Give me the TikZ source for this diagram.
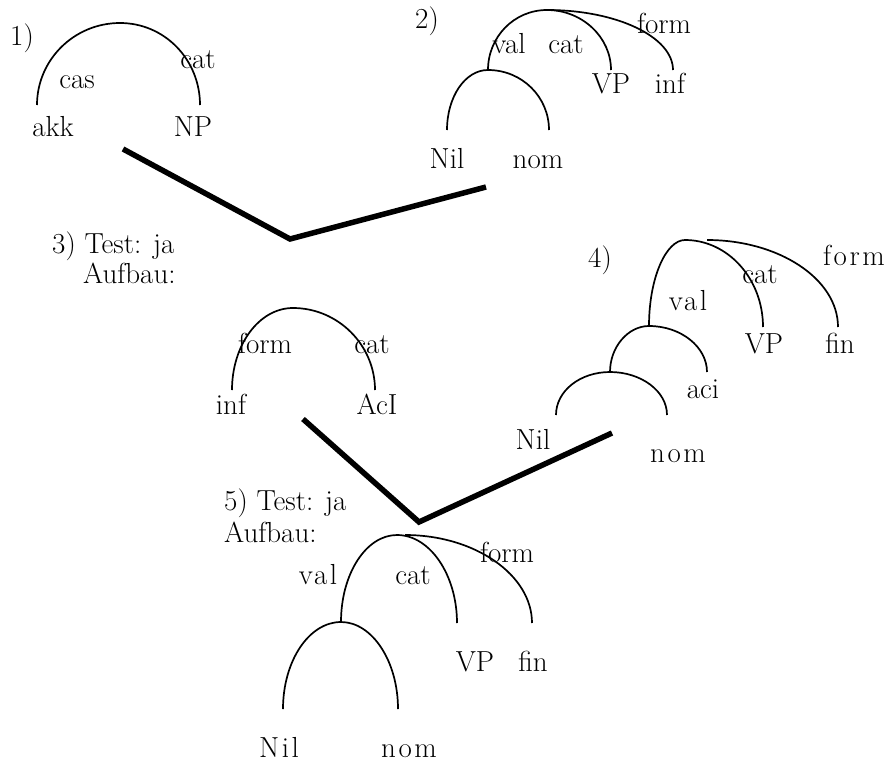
\documentclass[tikz,border=0pt]{standalone}
\usepackage{fontspec}
\setmainfont{Latin Modern Roman}
\begin{document}
\begin{tikzpicture}[x=1pt,y=-1pt,
  lbl/.style={anchor=base, inner sep=0pt, font=\fontsize{29}{33}\selectfont},
  wide/.style={lbl, font=\fontsize{29}{33}\selectfont\addfontfeatures{LetterSpace=9}},
  branch/.style={line width=1.7pt},
  merge/.style={line width=5.5pt, line join=miter}]
\useasboundingbox (0,0) rectangle (889,763);

% ---------- 1) ----------
\coordinate (t1l) at (37,105);
\coordinate (t1top) at (120,23);
\coordinate (t1r) at (200,105);
\draw[branch] (t1l) .. controls +(0,-45) and +(-46,0) .. (t1top)
              .. controls +(45,0) and +(0,-45) .. (t1r);
\node[lbl] (n1) at (22,45) {1)};
\node[lbl] (cas1) at (77,88) {cas};
\node[lbl] (cat1) at (198,68) {cat};
\node[lbl] (akk1) at (53,136) {akk};
\node[lbl] (np1) at (193,136) {NP};

% ---------- 2) ----------
\coordinate (t2nil) at (447,130);
\coordinate (t2mid) at (488,70);
\coordinate (t2nom) at (549,130);
\coordinate (t2top) at (547,10);
\coordinate (t2vp) at (611,70);
\coordinate (t2inf) at (673,70);
\draw[branch] (t2nil) .. controls +(0,-33) and +(-23,0) .. (t2mid)
              .. controls +(34,0) and +(0,-33) .. (t2nom);
\draw[branch] (t2mid) .. controls +(0,-33) and +(-33,0) .. (t2top)
              .. controls +(35,0) and +(0,-33) .. (t2vp);
\draw[branch] (t2top) .. controls +(70,0) and +(0,-33) .. (t2inf);
\node[lbl] (n2) at (427,28) {2)};
\node[lbl] (val2) at (509,53) {val};
\node[lbl] (cat2) at (566,53) {cat};
\node[lbl] (form2) at (664,33) {form};
\node[lbl] (vp2) at (611,93) {VP};
\node[lbl] (inf2) at (670,93) {inf};
\node[lbl] (nil2) at (447,168) {Nil};
\node[lbl] (nom2) at (538,168) {nom};

% ---------- merge of 1) and 2) ----------
\coordinate (m1a) at (123,149);
\coordinate (m1v) at (290,239);
\coordinate (m1b) at (486,187);
\draw[merge] (m1a) -- (m1v) -- (m1b);

% ---------- 3) ----------
\node[lbl, anchor=base west] (test3) at (52,253) {3) Test: ja};
\node[lbl, anchor=base west] (auf3) at (83,283) {Aufbau:};
\coordinate (t3inf) at (232,390);
\coordinate (t3top) at (293,308);
\coordinate (t3acl) at (375,390);
\draw[branch] (t3inf) .. controls +(0,-45) and +(-34,0) .. (t3top)
              .. controls +(45,0) and +(0,-45) .. (t3acl);
\node[lbl] (form3) at (265,353) {form};
\node[lbl] (cat3) at (372,353) {cat};
\node[lbl] (inf3) at (231,414) {inf};
\node[lbl] (acl3) at (377,414) {AcI};

% ---------- merge of 3) and 4) ----------
\coordinate (m2a) at (303,419);
\coordinate (m2v) at (419,522);
\coordinate (m2b) at (612,433);
\draw[merge] (m2a) -- (m2v) -- (m2b);

% ---------- 4) ----------
\coordinate (t4top) at (685,240);
\coordinate (t4val) at (649,326);
\coordinate (t4vp) at (763,327);
\coordinate (t4fs) at (707,240);
\coordinate (t4fin) at (838,327);
\coordinate (t4sub) at (610,372);
\coordinate (t4aci) at (707,372);
\coordinate (t4nil) at (556,415);
\coordinate (t4nom) at (667,415);
\draw[branch] (t4val) .. controls +(0,-48) and +(-19,0) .. (t4top)
              .. controls +(43,0) and +(0,-48) .. (t4vp);
\draw[branch] (t4fs) .. controls +(72,0) and +(0,-48) .. (t4fin);
\draw[branch] (t4sub) .. controls +(0,-25) and +(-21,0) .. (t4val)
              .. controls +(32,0) and +(0,-25) .. (t4aci);
\draw[branch] (t4nil) .. controls +(0,-24) and +(-30,0) .. (t4sub)
              .. controls +(31,0) and +(0,-24) .. (t4nom);
\node[lbl] (n4) at (600,267) {4)};
\node[wide] (val4) at (688,310) {val};
\node[lbl] (cat4) at (760,283) {cat};
\node[wide] (form4) at (854,265) {form};
\node[lbl] (vp4) at (764,353) {VP};
\node[lbl] (fin4) at (840,353) {fin};
\node[lbl] (aci4) at (703,398) {aci};
\node[lbl] (nil4) at (533,449) {Nil};
\node[wide] (nom4) at (678,462) {nom};

% ---------- 5) ----------
\node[lbl, anchor=base west] (test5) at (224,510) {5) Test: ja};
\node[lbl, anchor=base west] (auf5) at (224,542) {Aufbau:};
\coordinate (t5top) at (397,535);
\coordinate (t5val) at (341,622);
\coordinate (t5vp) at (457,623);
\coordinate (t5fs) at (405,535);
\coordinate (t5fin) at (532,623);
\coordinate (t5nil) at (283,709);
\coordinate (t5nom) at (398,709);
\draw[branch] (t5val) .. controls +(0,-48) and +(-31,0) .. (t5top)
              .. controls +(33,0) and +(0,-48) .. (t5vp);
\draw[branch] (t5fs) .. controls +(70,0) and +(0,-48) .. (t5fin);
\draw[branch] (t5nil) .. controls +(0,-48) and +(-32,0) .. (t5val)
              .. controls +(31,0) and +(0,-48) .. (t5nom);
\node[wide] (val5) at (318,584) {val};
\node[lbl] (cat5) at (413,584) {cat};
\node[lbl] (form5) at (507,562) {form};
\node[lbl] (vp5) at (475,671) {VP};
\node[lbl] (fin5) at (533,671) {fin};
\node[wide] (nil5) at (279,757) {Nil};
\node[wide] (nom5) at (409,757) {nom};
\end{tikzpicture}
\end{document}
